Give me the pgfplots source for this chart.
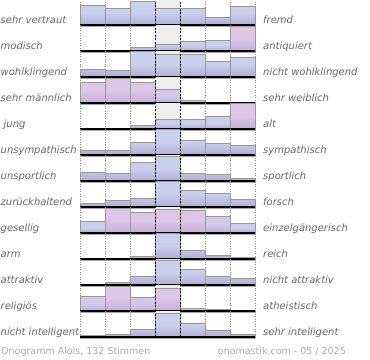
\documentclass[border=0pt]{standalone}
\usepackage{pgfplots}
\pgfplotsset{compat=1.18}
\usepackage{pgfplotstable}
\usepackage{fontspec}
\setmainfont{DejaVu Sans}
\definecolor{barB}{HTML}{C8D0EC}
\definecolor{barBb}{HTML}{B2ACD6}
\definecolor{barP}{HTML}{DEC6E6}
\definecolor{barPb}{HTML}{C2B0D8}
\definecolor{barM}{HTML}{D2C8E8}
\definecolor{barMb}{HTML}{BAAED8}
\definecolor{midbg}{HTML}{EEEEEE}
\definecolor{lab}{HTML}{666666}
\definecolor{foot}{HTML}{AAAAAA}

% blue bars: one column per row (r0 = top row)
\pgfplotstableread{
x   r0   r1   r2   r3   r4   r5   r6   r7   r8   r9   r10  r11  r12
0.5 20   nan  8    nan  nan  4.7  9    3.7  11.7 nan  1    nan  1.7
1.5 16.7 nan  6.3  nan  nan  4.7  7.7  7    nan  nan  2.7  nan  3
2.5 24   3.7  25.6 nan  4    13   19   9    nan  3    9    nan  8
3.5 16.7 6.3  22.7 nan  10   25.3 25   26   nan  26   25   nan  24
4.5 16.7 9.7  22.7 2.3  10   14.7 7.7  17   nan  8.3  15.3 2.7  14
5.5 7.7  11   15.3 nan  12.3 12   6.3  13.7 nan  3.3  9    1.7  6.7
6.5 19   nan  19.3 nan  nan  9.7  3    7.7  10   1.7  7    nan  3
}\tB
% pink bars
\pgfplotstableread{
x   r0   r1   r2   r3   r4   r5   r6   r7   r8   r9   r10  r11  r12
0.5 nan  nan  nan  21   nan  nan  nan  nan  nan  nan  nan  nan  nan
1.5 nan  nan  nan  24.7 nan  nan  nan  nan  24.7 nan  nan  25   nan
2.5 nan  nan  nan  21   nan  nan  nan  nan  21   nan  nan  nan  nan
3.5 nan  nan  nan  nan  nan  nan  nan  nan  23.3 nan  nan  22.3 nan
4.5 nan  nan  nan  nan  nan  nan  nan  nan  22.7 nan  nan  nan  nan
5.5 nan  nan  nan  nan  nan  nan  nan  nan  nan  nan  nan  nan  nan
6.5 nan  24.3 nan  nan  26   nan  nan  nan  nan  nan  nan  nan  nan
}\tP
% intermediate (lavender) bars
\pgfplotstableread{
x   r0   r1   r2   r3   r4   r5   r6   r7   r8   r9   r10  r11  r12
0.5 nan  nan  nan  nan  nan  nan  nan  nan  nan  nan  nan  14.3 nan
1.5 nan  nan  nan  nan  nan  nan  nan  nan  nan  nan  nan  nan  nan
2.5 nan  nan  nan  nan  nan  nan  nan  nan  nan  nan  nan  13.3 nan
3.5 nan  nan  nan  14   nan  nan  nan  nan  nan  nan  nan  nan  nan
4.5 nan  nan  nan  nan  nan  nan  nan  nan  nan  nan  nan  nan  nan
5.5 nan  nan  nan  nan  nan  nan  nan  nan  16.7 nan  nan  nan  nan
6.5 nan  nan  nan  nan  nan  nan  nan  nan  nan  nan  nan  nan  nan
}\tM

\tikzset{dotv/.style={black!45, line width=0.6bp, dash pattern=on 1bp off 1.5bp},
  dashv/.style={black, line width=0.8bp, dash pattern=on 2bp off 1.5bp}}

\begin{document}
\begin{tikzpicture}
\path[use as bounding box] (0bp,0bp) rectangle (370bp,360bp);
\foreach \i/\l/\r in {0/sehr vertraut/fremd,
  1/modisch/antiquiert,
  2/wohlklingend/nicht wohlklingend,
  3/sehr männlich/sehr weiblich,
  4/\hspace*{3bp}jung/alt,
  5/unsympathisch/sympathisch,
  6/unsportlich/sportlich,
  7/zurückhaltend/forsch,
  8/gesellig/einzelgängerisch,
  9/arm/reich,
  10/attraktiv/nicht attraktiv,
  11/religiös/atheistisch,
  12/nicht intelligent/sehr intelligent}{
  \begin{axis}[at={(80bp,{(335-26*\i)*1bp})}, anchor=origin,
    scale only axis, width=175bp, height=26bp,
    xmin=0, xmax=7, ymin=0, ymax=26, hide axis, clip=false]
    \fill[midbg] (axis cs:3,0) rectangle (axis cs:4,26);
    \draw[dotv] (axis cs:0,0) -- (axis cs:0,26);
    \draw[dotv] (axis cs:1,0) -- (axis cs:1,26);
    \draw[dotv] (axis cs:2,0) -- (axis cs:2,26);
    \draw[dotv] (axis cs:5,0) -- (axis cs:5,26);
    \draw[dotv] (axis cs:6,0) -- (axis cs:6,26);
    \draw[dotv] (axis cs:7,0) -- (axis cs:7,26);
    \addplot[ybar, bar width=1, bar shift=0pt, draw=black!40, line width=0.6bp,
      top color=barB, bottom color=barBb, middle color=barB] table[x=x, y=r\i] \tB;
    \addplot[ybar, bar width=1, bar shift=0pt, draw=black!40, line width=0.6bp,
      top color=barP, bottom color=barPb, middle color=barP] table[x=x, y=r\i] \tP;
    \addplot[ybar, bar width=1, bar shift=0pt, draw=black!40, line width=0.6bp,
      top color=barM, bottom color=barMb, middle color=barM] table[x=x, y=r\i] \tM;
    \draw[dashv] (axis cs:3,0) -- (axis cs:3,26);
    \draw[dashv] (axis cs:4,0) -- (axis cs:4,26);
    \draw[black!35, line width=1bp] ([yshift=-1.3bp]axis cs:0,0) -- ([yshift=-1.3bp,xshift=1.5bp]axis cs:7,0);
    \draw[black, line width=1.2bp] (axis cs:0,0) -- (axis cs:7,0);
  \end{axis}
  \node[anchor=base west, inner sep=0pt, text=lab, font=\itshape\fontsize{10bp}{12bp}\selectfont]
    at (0.5bp,{(336.7-26*\i)*1bp}) {\l};
  \node[anchor=base west, inner sep=0pt, text=lab, font=\itshape\fontsize{10bp}{12bp}\selectfont]
    at (263bp,{(336.7-26*\i)*1bp}) {\r};
}
\node[anchor=base west, inner sep=0pt, text=foot, font=\fontsize{9.5bp}{11bp}\selectfont]
  at (1bp,5.3bp) {Onogramm Alois, 132 Stimmen};
\node[anchor=base east, inner sep=0pt, text=foot, font=\fontsize{9.5bp}{11bp}\selectfont]
  at (346bp,5.3bp) {onomastik.com - 05 / 2025};
\end{tikzpicture}
\end{document}
